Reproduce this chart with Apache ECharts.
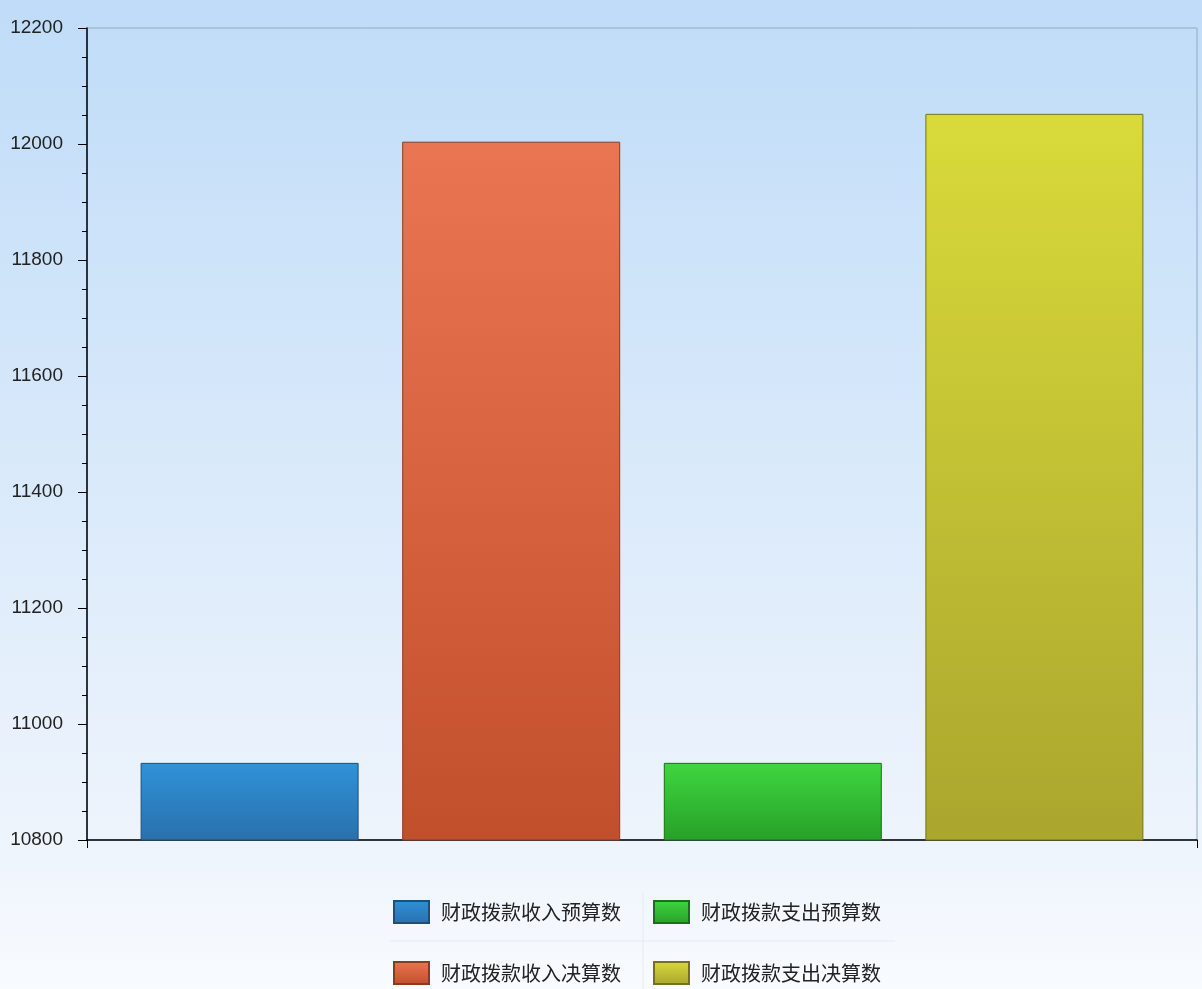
<!DOCTYPE html>
<html>
<head>
<meta charset="utf-8">
<title>财政拨款收支</title>
<script src="https://cdn.jsdelivr.net/npm/echarts@6.0.0/dist/echarts.min.js"></script>
<style>
  html, body { margin: 0; padding: 0; }
  #main-chart { width: 1202px; height: 989px; }
</style>
</head>
<body>
<div id="main-chart"></div>
<script>
// 数据
const categories = [''];
const seriesNames = ['财政拨款收入预算数', '财政拨款收入决算数', '财政拨款支出预算数', '财政拨款支出决算数'];
const seriesValues = [10933, 12004, 10933, 12052];
const yTicks = { min: 10800, max: 12200, interval: 200 };

// 每个柱子的渐变色 [顶部, 底部, 边框]
const barColors = [
  ['#2f92d8', '#2a70ac', '#1d4f7c'],
  ['#ea7552', '#c24f2c', '#8a3a22'],
  ['#3fd640', '#28a028', '#1c6e1c'],
  ['#d9da3a', '#aaa62e', '#75721e']
];

function grad(c) {
  return new echarts.graphic.LinearGradient(0, 0, 0, 1, [
    { offset: 0, color: c[0] },
    { offset: 1, color: c[1] }
  ]);
}

const chart = echarts.init(document.getElementById('main-chart'));

const series = seriesNames.map((name, i) => ({
  name: name,
  type: 'bar',
  data: [seriesValues[i]],
  barWidth: 218,
  barGap: '20%',
  itemStyle: {
    color: grad(barColors[i]),
    borderColor: barColors[i][2],
    borderWidth: 1
  }
}));

const legendText = { fontSize: 20, color: '#222', fontFamily: 'Noto Sans CJK SC', padding: [0, 0, 0, 7] };

chart.setOption({
  backgroundColor: new echarts.graphic.LinearGradient(0, 0, 0, 1, [
    { offset: 0, color: '#bfdcf8' },
    { offset: 0.85, color: '#eef4fc' },
    { offset: 1, color: '#f8fbff' }
  ]),
  animation: false,
  grid: {
    left: 87, right: 5, top: 28, bottom: 149,
    show: true, borderColor: '#8eabc6', borderWidth: 1
  },
  legend: [
    {
      data: [seriesNames[0], seriesNames[1]],
      orient: 'vertical', left: 393, top: 900, padding: 0,
      icon: 'rect', itemWidth: 35, itemHeight: 22, itemGap: 37,
      textStyle: legendText
    },
    {
      data: [seriesNames[2], seriesNames[3]],
      orient: 'vertical', left: 653, top: 900, padding: 0,
      icon: 'rect', itemWidth: 35, itemHeight: 22, itemGap: 37,
      textStyle: legendText
    }
  ],
  xAxis: {
    type: 'category',
    data: categories,
    axisLine: { lineStyle: { color: '#000', width: 1.5 } },
    axisTick: { show: true, length: 8, lineStyle: { color: '#000' } },
    axisLabel: { show: false },
    splitLine: { show: false }
  },
  yAxis: {
    type: 'value',
    min: yTicks.min, max: yTicks.max, interval: yTicks.interval,
    axisLine: { show: true, lineStyle: { color: '#000', width: 1.5 } },
    axisTick: { show: true, length: 9, lineStyle: { color: '#000' } },
    minorTick: { show: true, splitNumber: 4, length: 5, lineStyle: { color: '#000' } },
    axisLabel: {
      fontSize: 19, color: '#222', margin: 24, fontFamily: 'Liberation Sans',
      formatter: v => String(v)
    },
    splitLine: { show: false }
  },
  graphic: [
    { type: 'line', shape: { x1: 390, y1: 941, x2: 895, y2: 941 }, style: { stroke: '#e4ebf3', lineWidth: 1 } },
    { type: 'line', shape: { x1: 643, y1: 893, x2: 643, y2: 989 }, style: { stroke: '#e4ebf3', lineWidth: 1 } }
  ],
  series: series
});
</script>
</body>
</html>
